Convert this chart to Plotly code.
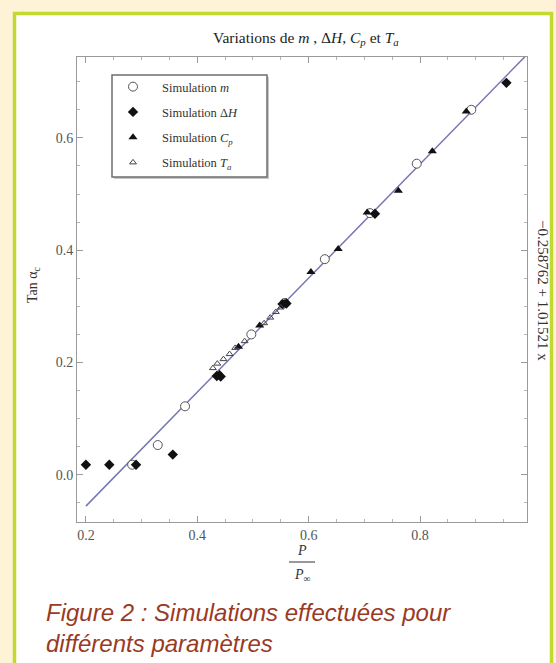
import plotly.graph_objects as go

# --- data -------------------------------------------------------------
m_x = [0.283, 0.329, 0.378, 0.497, 0.557, 0.629, 0.710, 0.794, 0.892]
m_y = [0.018, 0.053, 0.122, 0.250, 0.306, 0.384, 0.466, 0.554, 0.650]

dh_x = [0.200, 0.242, 0.290, 0.356, 0.435, 0.442, 0.553, 0.560, 0.719, 0.955]
dh_y = [0.018, 0.018, 0.018, 0.036, 0.176, 0.175, 0.304, 0.305, 0.465, 0.698]

cp_x = [0.440, 0.474, 0.512, 0.556, 0.604, 0.653, 0.705, 0.761, 0.822, 0.883]
cp_y = [0.180, 0.228, 0.266, 0.306, 0.361, 0.402, 0.467, 0.506, 0.576, 0.647]

ta_x = [0.428, 0.436, 0.447, 0.458, 0.468, 0.485, 0.520, 0.531, 0.541, 0.550]
ta_y = [0.190, 0.198, 0.206, 0.215, 0.226, 0.238, 0.270, 0.280, 0.290, 0.298]

fit_a = -0.258762
fit_b = 1.01521
fit_x = [0.2, 1.0]
fit_y = [fit_a + fit_b * v for v in fit_x]

x_ticks = [0.2, 0.4, 0.6, 0.8]
y_ticks = [0.0, 0.2, 0.4, 0.6]

# --- geometry helpers (pixel -> paper) --------------------------------
W, H = 556, 663
L, R, T, B = 77, 527, 57, 522


def px(x):
    return (x - L) / (R - L)


def py(y):
    return (B - y) / (B - T)


SERIF = "Liberation Serif, Times New Roman, serif"
TICK_GRAY = "#9a9a9a"
TEXT = "#333333"

fig = go.Figure()

fig.add_trace(go.Scatter(
    x=fit_x, y=fit_y, mode="lines", showlegend=False,
    line=dict(color="#7676b2", width=1.5), hoverinfo="skip"))

fig.add_trace(go.Scatter(
    x=m_x, y=m_y, mode="markers", name="Simulation <i>m</i>",
    legendgroup="m", legendrank=1,
    marker=dict(symbol="circle", size=9, color="white",
                line=dict(color="#555555", width=1))))

fig.add_trace(go.Scatter(
    x=dh_x, y=dh_y, mode="markers", name="Simulation Δ<i>H</i>",
    legendgroup="dh", legendrank=2,
    marker=dict(symbol="diamond", size=8, color="#111111",
                line=dict(width=0))))

fig.add_trace(go.Scatter(
    x=cp_x, y=cp_y, mode="markers", name="Simulation <i>C<sub>p</sub></i>",
    legendgroup="cp", legendrank=3,
    marker=dict(symbol="triangle-up", size=8, color="#111111",
                line=dict(width=0))))

fig.add_trace(go.Scatter(
    x=ta_x, y=ta_y, mode="markers", name="Simulation <i>T<sub>a</sub></i>",
    legendgroup="ta", legendrank=4,
    marker=dict(symbol="triangle-up-open", size=6, color="#444444",
                line=dict(width=1))))

axis_common = dict(
    showgrid=False, zeroline=False,
    showline=True, linecolor=TICK_GRAY, linewidth=1, mirror="ticks",
    ticks="inside", ticklen=6, tickcolor=TICK_GRAY, tickwidth=1,
    tickfont=dict(family=SERIF, size=14, color="#555555"),
    minor=dict(ticks="inside", dtick=0.05, tick0=0, ticklen=3,
               tickcolor="#b5b5b5", tickwidth=1, showgrid=False),
)

fig.update_xaxes(range=[0.184, 0.992], tickvals=x_ticks,
                 ticktext=[f"{v:.1f}" for v in x_ticks], **axis_common)
fig.update_yaxes(range=[-0.084, 0.744], tickvals=y_ticks,
                 ticktext=[f"{v:.1f}" for v in y_ticks], **axis_common)

shapes = [
    # white panel with green border
    dict(type="rect", xref="paper", yref="paper",
         x0=px(14.5), x1=px(551.5), y0=py(720), y1=py(13.5),
         fillcolor="white", line=dict(color="#c2d932", width=3.5),
         layer="below"),
    # legend frame with a soft shadow
    dict(type="rect", xref="paper", yref="paper",
         x0=px(114), x1=px(269), y0=py(179), y1=py(77),
         fillcolor="#c8c8c8", line=dict(width=0), layer="above"),
    dict(type="rect", xref="paper", yref="paper",
         x0=px(112), x1=px(267), y0=py(177), y1=py(75),
         fillcolor="white", line=dict(color="#6e6e6e", width=1.5),
         layer="above"),
    # fraction bar of the x label
    dict(type="line", xref="paper", yref="paper",
         x0=px(289), x1=px(315), y0=py(562), y1=py(562),
         line=dict(color=TEXT, width=1)),
]


def label(text, x, y, size, angle=0, color=TEXT, family=SERIF):
    return dict(text=text, xref="paper", yref="paper", x=px(x), y=py(y),
                xanchor="center", yanchor="middle", textangle=angle,
                showarrow=False, font=dict(family=family, size=size,
                                           color=color))


annotations = [
    label("Variations de <i>m</i> , Δ<i>H</i>, <i>C<sub>p</sub></i> et <i>T<sub>a</sub></i>",
          306, 38, 15.5, color="#222222"),
    label("Tan α<sub>c</sub>", 33, 285, 14, angle=-90),
    label("−0.258762 + 1.01521 x", 543, 290, 15, angle=90),
    label("<i>P</i>", 302, 550, 14),
    label("<i>P</i><sub>∞</sub>", 302, 575, 14),
    dict(text="<i>Figure 2 : Simulations effectuées pour<br>différents paramètres</i>",
         xref="paper", yref="paper", x=px(44), y=py(597),
         xanchor="left", yanchor="top", align="left", showarrow=False,
         font=dict(family="Liberation Sans, Arial, sans-serif", size=24,
                   color="#9b3a24")),
]

fig.update_layout(
    width=W, height=H,
    margin=dict(l=L, r=W - R, t=T, b=H - B, pad=0),
    paper_bgcolor="#fef2d7", plot_bgcolor="white",
    shapes=shapes, annotations=annotations,
    showlegend=True,
    legend=dict(x=px(104), y=py(72), xanchor="left", yanchor="top",
                bgcolor="rgba(0,0,0,0)", borderwidth=0,
                traceorder="grouped", tracegroupgap=6, itemwidth=48,
                font=dict(family=SERIF, size=12.5, color=TEXT)),
)

fig.write_html("out.html")
